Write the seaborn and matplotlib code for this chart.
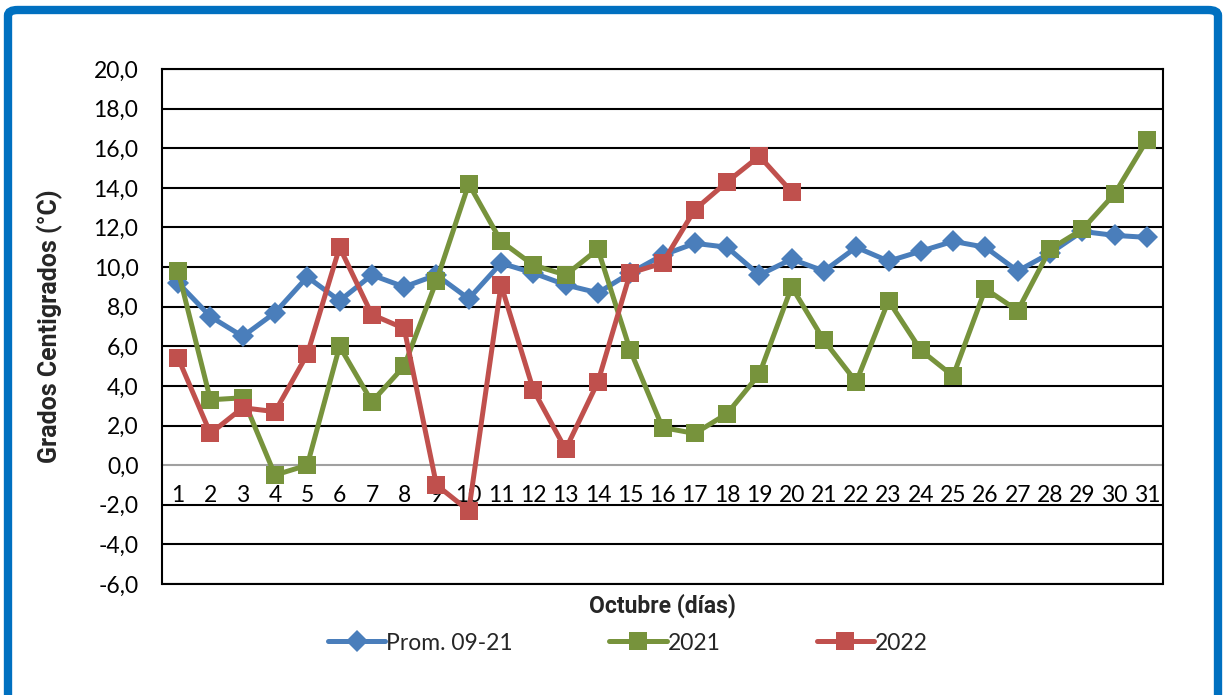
import numpy as np
import pandas as pd
import matplotlib
matplotlib.use("Agg")
import matplotlib.pyplot as plt
import seaborn as sns
from matplotlib.patches import FancyBboxPatch
from matplotlib.ticker import FuncFormatter, MultipleLocator

# Daily temperatures, October (días 1-31)
dias = list(range(1, 32))
prom_09_21 = [9.2, 7.5, 6.5, 7.7, 9.5, 8.3, 9.6, 9.0, 9.6, 8.4,
              10.2, 9.7, 9.1, 8.7, 9.7, 10.6, 11.2, 11.0, 9.6, 10.4,
              9.8, 11.0, 10.3, 10.8, 11.3, 11.0, 9.8, 10.7, 11.8, 11.6, 11.5]
t_2021 = [9.8, 3.3, 3.4, -0.5, 0.0, 6.0, 3.2, 5.0, 9.3, 14.2,
          11.3, 10.1, 9.6, 10.9, 5.8, 1.9, 1.6, 2.6, 4.6, 9.0,
          6.3, 4.2, 8.3, 5.8, 4.5, 8.9, 7.8, 10.9, 11.9, 13.7, 16.4]
t_2022 = [5.4, 1.6, 2.9, 2.7, 5.6, 11.0, 7.6, 6.9, -1.0, -2.3,
          9.1, 3.8, 0.8, 4.2, 9.7, 10.2, 12.9, 14.3, 15.6, 13.8]

series = ["Prom. 09-21", "2021", "2022"]
colores = {"Prom. 09-21": "#4A7EBB", "2021": "#77933C", "2022": "#C0504D"}
marcadores = {"Prom. 09-21": "D", "2021": "s", "2022": "s"}
tamanos = {"Prom. 09-21": 11, "2021": 12.5, "2022": 12.5}

df = pd.concat([
    pd.DataFrame({"dia": dias, "temp": prom_09_21, "serie": series[0]}),
    pd.DataFrame({"dia": dias, "temp": t_2021, "serie": series[1]}),
    pd.DataFrame({"dia": dias[:len(t_2022)], "temp": t_2022, "serie": series[2]}),
])

sns.set_theme(style="white")
plt.rcParams["font.family"] = ["Lato", "DejaVu Sans"]
bold_font = ["Roboto", "DejaVu Sans"]

W, H = 1224, 695
fig = plt.figure(figsize=(W / 100, H / 100), dpi=100)
ax = fig.add_axes([162 / W, 1 - 584 / H, (1163 - 162) / W, (584 - 69) / H])

for s in series:
    sns.lineplot(data=df[df["serie"] == s], x="dia", y="temp", ax=ax,
                 color=colores[s], linewidth=3.6, marker=marcadores[s],
                 markersize=tamanos[s], markeredgewidth=0, label=s,
                 zorder=3)

ax.set_xlim(0.5, 31.5)
ax.set_ylim(-6, 20)
ax.yaxis.set_major_locator(MultipleLocator(2))
ax.yaxis.set_major_formatter(FuncFormatter(lambda v, p: f"{v:.1f}".replace(".", ",")))
for v in np.arange(-6, 21, 2):
    if v != 0:
        ax.axhline(v, color="black", linewidth=1.5, zorder=1)

for side in ["top", "right", "left"]:
    ax.spines[side].set_color("black")
    ax.spines[side].set_linewidth(1.5)
ax.spines["bottom"].set_position(("data", 0))
ax.spines["bottom"].set_color("#A0A0A0")
ax.spines["bottom"].set_linewidth(1.5)
ax.spines["bottom"].set_zorder(2)
ax.plot([0.5, 31.5], [-6, -6], color="black", linewidth=1.5, clip_on=False, zorder=1)

ax.set_xticks(dias)
ax.set_xticks(np.arange(0.5, 32, 1), minor=True)
ax.tick_params(axis="x", which="major", length=0, labelsize=16.5, pad=14, colors="black")
ax.tick_params(axis="x", which="minor", length=7, width=1.5, color="#A0A0A0", direction="out")
ax.tick_params(axis="y", which="major", length=0, labelsize=16.5, pad=17, colors="black")

ax.set_xlabel("")
ax.set_ylabel("Grados Centigrados (°C)", fontsize=18, fontweight="bold",
              family=bold_font, labelpad=22)
fig.text((162 + 1163) / 2 / W, 1 - 606 / H, "Octubre (días)", ha="center", va="center",
         fontsize=16.5, fontweight="bold", family=bold_font)

ax.legend(loc="center", bbox_to_anchor=(628 / W, 1 - 643 / H), bbox_transform=fig.transFigure,
          ncol=3, frameon=False, fontsize=16.5, columnspacing=4.2, handlelength=2.5,
          handletextpad=0.05)

borde = FancyBboxPatch((8 / W, -0.1), (1218 - 8) / W, 1 - 10 / H + 0.1,
                       boxstyle="round,pad=0,rounding_size=0.008",
                       transform=fig.transFigure, facecolor="none",
                       edgecolor="#0070C0", linewidth=6, clip_on=False)
fig.patches.append(borde)

fig.savefig("out.png", dpi=100)
